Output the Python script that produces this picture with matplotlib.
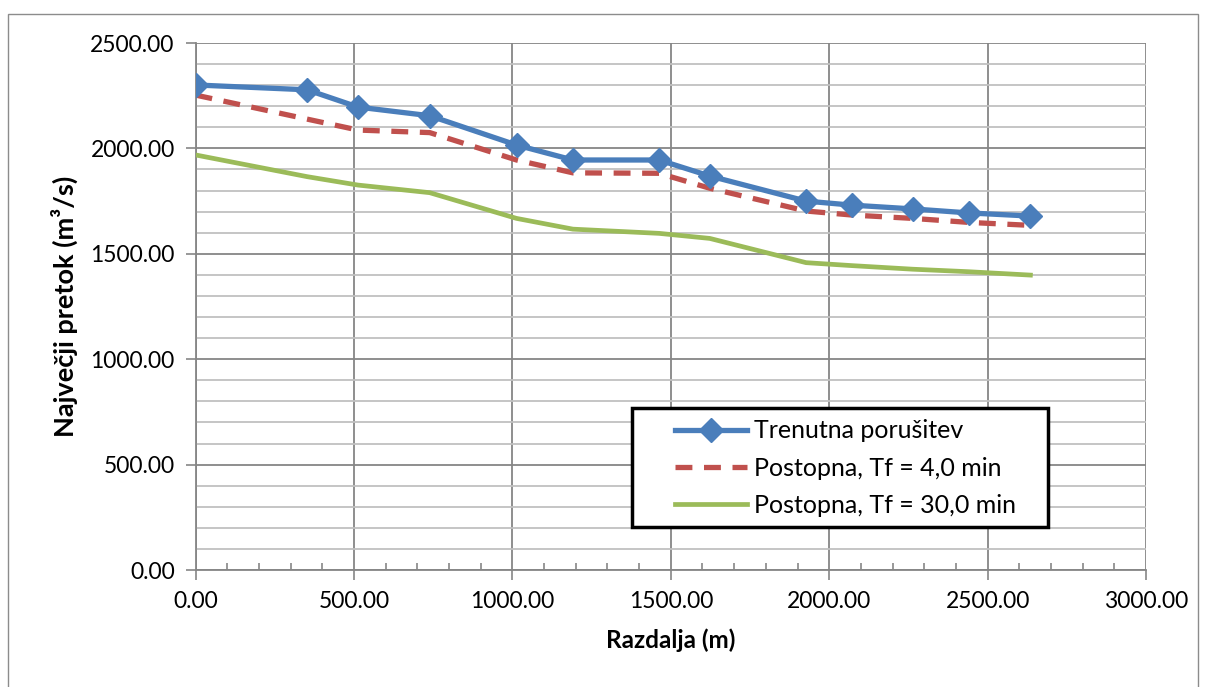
import matplotlib
matplotlib.use("Agg")
import matplotlib.pyplot as plt
from matplotlib.ticker import MultipleLocator, FormatStrFormatter
from matplotlib.patches import Rectangle

# Data
distance = [0, 352, 513, 739, 1013, 1191, 1463, 1623, 1927, 2071, 2263, 2440, 2635]
trenutna = [2301, 2278, 2196, 2155, 2016, 1945, 1945, 1869, 1750, 1731, 1713, 1694, 1679]
tf4 = [2253, 2139, 2087, 2075, 1945, 1884, 1882, 1811, 1703, 1684, 1668, 1649, 1635]
tf30 = [1969, 1866, 1826, 1790, 1668, 1617, 1597, 1573, 1458, 1444, 1427, 1415, 1399]
labels = ["Trenutna porušitev", "Postopna, Tf = 4,0 min", "Postopna, Tf = 30,0 min"]

plt.rcParams['font.family'] = ['Lato', 'DejaVu Sans']

fig = plt.figure(figsize=(12.08, 6.87), dpi=100)
fig.patches.append(Rectangle((0.007, -0.01), 0.985, 0.99, transform=fig.transFigure,
                             fill=False, edgecolor='#8c8c8c', linewidth=1.0))
ax = fig.add_axes([0.1619, 0.1703, 0.7868, 0.7671])

grid_major = '#868686'
grid_minor = '#c0c0c0'

ax.plot(distance, trenutna, color='#4A7EBB', linewidth=3.8, marker='D', markersize=12,
        label=labels[0], zorder=5)
ax.plot(distance, tf4, color='#C0504D', linewidth=3.8, linestyle=(0, (3.2, 2.2)),
        label=labels[1], zorder=4)
ax.plot(distance, tf30, color='#9BBB59', linewidth=3.4, label=labels[2], zorder=3)

ax.set_xlim(0, 3000)
ax.set_ylim(0, 2500)
ax.xaxis.set_major_locator(MultipleLocator(500))
ax.xaxis.set_minor_locator(MultipleLocator(100))
ax.yaxis.set_major_locator(MultipleLocator(500))
ax.yaxis.set_minor_locator(MultipleLocator(100))
ax.xaxis.set_major_formatter(FormatStrFormatter('%.2f'))
ax.yaxis.set_major_formatter(FormatStrFormatter('%.2f'))

ax.grid(which='major', axis='both', color=grid_major, linewidth=1.3)
ax.grid(which='minor', axis='y', color=grid_minor, linewidth=1.3)
ax.set_axisbelow(True)

for s in ['top', 'right']:
    ax.spines[s].set_visible(False)
for s in ['left', 'bottom']:
    ax.spines[s].set_color(grid_major)
    ax.spines[s].set_linewidth(1.3)

ax.tick_params(axis='both', which='major', direction='out', length=7, color=grid_major,
               width=1.2, labelsize=16.5, pad=8)
ax.tick_params(axis='x', which='minor', direction='in', length=5, color=grid_major, width=1.2)
ax.tick_params(axis='y', which='minor', length=0)

ax.set_xlabel('Razdalja (m)', fontsize=17.5, fontweight='bold', labelpad=12)
ax.set_ylabel('Največji pretok (m³/s)', fontsize=19.5, fontweight='bold', labelpad=9)

# legend box (drawn separately) and legend content
ax.add_patch(Rectangle((0.4592, 0.0816), 0.4377, 0.2258, transform=ax.transAxes,
                       facecolor='white', edgecolor='black', linewidth=2.5, zorder=9))
leg = ax.legend(loc='center left', bbox_to_anchor=(0.5044, 0.1935),
                fontsize=18, frameon=False, handlelength=2.88,
                handletextpad=0.27, borderaxespad=0, labelspacing=0.57, borderpad=0)
leg.set_zorder(10)

fig.savefig('out.png', dpi=100)
